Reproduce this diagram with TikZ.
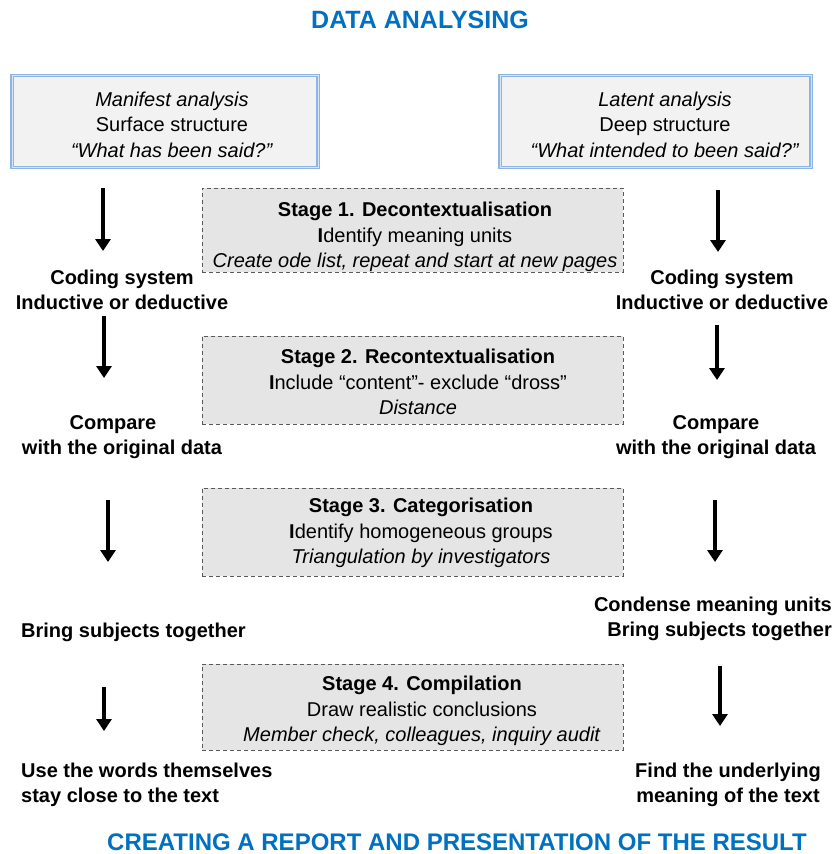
\documentclass[tikz,border=0pt]{standalone}
\usepackage{fontspec}
\setmainfont{Liberation Sans}
\usetikzlibrary{arrows.meta}

\definecolor{titleblue}{RGB}{0,112,192}
\definecolor{frameblue}{RGB}{141,180,226}
\definecolor{boxgray}{RGB}{242,242,242}
\definecolor{stagegray}{RGB}{229,229,229}

\begin{document}
\begin{tikzpicture}[x=1pt, y=-1pt,
    title/.style={font=\bfseries, text=titleblue, inner sep=0pt},
    topbox/.style={draw=frameblue, line width=1.4pt, double=frameblue!35, double distance=0.8pt, fill=boxgray, minimum height=92pt},
    stagebox/.style={draw=black!65, dash pattern=on 4pt off 3pt, line width=0.9pt, fill=stagegray, minimum width=421pt},
    boxtext/.style={align=center, inner sep=0pt, font=\fontsize{20}{25.5}\selectfont},
    coltext/.style={font=\fontsize{20}{24.5}\selectfont\bfseries, align=center, inner sep=0pt},
    arr/.style={line width=3.6pt, -{Triangle[width=15pt,length=12pt]}}]
    \useasboundingbox (0,0) rectangle (834,854);

    \node[title, font=\fontsize{25}{30}\selectfont\bfseries] (head) at (420,20) {DATA ANALYSING};

    % analysis boxes
    \node[topbox, minimum width=306pt] (manifest) at (165,121.5) {};
    \node[boxtext] (manifesttxt) at (172,124.5) {\textit{Manifest analysis}\\Surface structure\\\textit{“What has been said?”}};
    \node[topbox, minimum width=311pt] (latent) at (655.5,121.5) {};
    \node[boxtext] (latenttxt) at (665,124.5) {\textit{Latent analysis}\\Deep structure\\\textit{“What intended to been said?”}};

    % stages
    \node[stagebox, minimum height=84pt] (stage1) at (412.5,230) {};
    \node[boxtext] (stage1txt) at (415,237) {\textbf{Stage 1. Decontextualisation}\\\textbf{I}dentify meaning units\\\textit{Create ode list, repeat and start at new pages}};
    \node[stagebox, minimum height=88pt] (stage2) at (412.5,380) {};
    \node[boxtext] (stage2txt) at (418,382) {\textbf{Stage 2. Recontextualisation}\\\textbf{I}nclude “content”- exclude “dross”\\\textit{Distance}};
    \node[stagebox, minimum height=88pt] (stage3) at (412.5,532) {};
    \node[boxtext] (stage3txt) at (421,533) {\textbf{Stage 3. Categorisation}\\\textbf{I}dentify homogeneous groups\\\textit{Triangulation by investigators}};
    \node[stagebox, minimum height=86pt] (stage4) at (412.5,707) {};
    \node[boxtext] (stage4txt) at (422,711) {\textbf{Stage 4. Compilation}\\Draw realistic conclusions\\\textit{Member check, colleagues, inquiry audit}};

    % manifest side
    \node[coltext] (lcode) at (122,290) {Coding system\\Inductive or deductive};
    \node[coltext] (lcomp) at (122,437) {Compare\hspace*{18pt}\\with the original data};
    \node[coltext, anchor=west] (lbring) at (21,632) {Bring subjects together};
    \node[coltext, align=left, anchor=west] (lwords) at (21,785) {Use the words themselves\\stay close to the text};

    % latent side
    \node[coltext] (rcode) at (722,290) {Coding system\\Inductive or deductive};
    \node[coltext] (rcomp) at (716,437) {Compare\\with the original data};
    \node[coltext, align=right, anchor=east] (rbring) at (832,619) {Condense meaning units\\Bring subjects together};
    \node[coltext] (rfind) at (728,785) {Find the underlying\\meaning of the text};

    \node[title, font=\fontsize{24}{29}\selectfont\bfseries] (foot) at (457,842) {CREATING A REPORT AND PRESENTATION OF THE RESULT};

    \coordinate (la1) at (103,188);
    \coordinate (lb1) at (103,251);
    \coordinate (la2) at (104,316);
    \coordinate (lb2) at (104,378);
    \coordinate (la3) at (108,500);
    \coordinate (lb3) at (108,562);
    \coordinate (la4) at (104,687);
    \coordinate (lb4) at (104,731);
    \coordinate (ra1) at (718,190);
    \coordinate (rb1) at (718,252);
    \coordinate (ra2) at (717,325);
    \coordinate (rb2) at (717,380);
    \coordinate (ra3) at (715,500);
    \coordinate (rb3) at (715,562);
    \coordinate (ra4) at (720,666);
    \coordinate (rb4) at (720,726);

    \draw[arr] (la1) -- (lb1);
    \draw[arr] (la2) -- (lb2);
    \draw[arr] (la3) -- (lb3);
    \draw[arr] (la4) -- (lb4);
    \draw[arr] (ra1) -- (rb1);
    \draw[arr] (ra2) -- (rb2);
    \draw[arr] (ra3) -- (rb3);
    \draw[arr] (ra4) -- (rb4);
\end{tikzpicture}
\end{document}
